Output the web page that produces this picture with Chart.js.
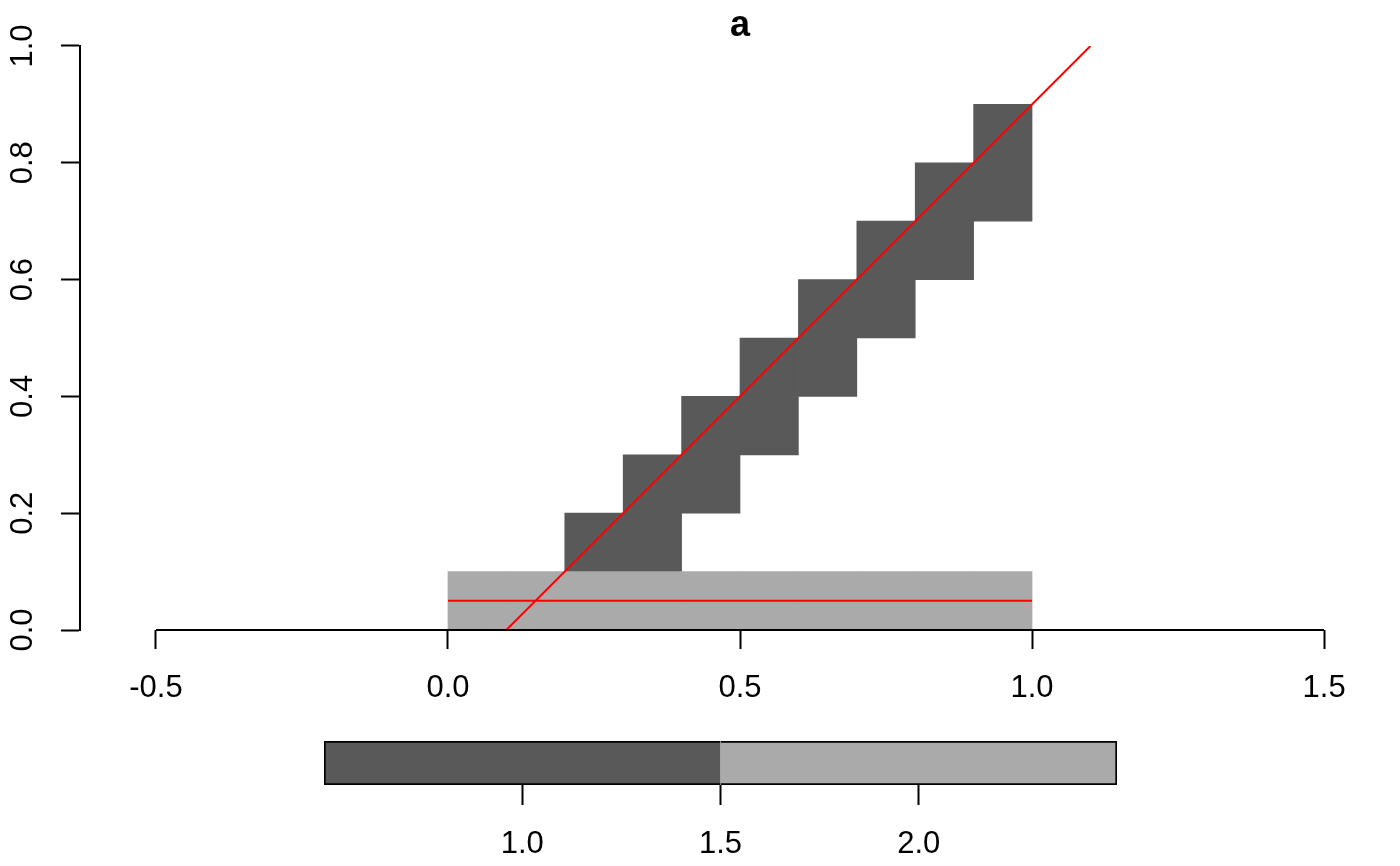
<!DOCTYPE html>
<html>
<head>
<meta charset="utf-8">
<script src="https://cdn.jsdelivr.net/npm/chart.js@4"></script>
<style>
  html, body { margin:0; padding:0; background:#fff; }
  #wrap { position:relative; width:1400px; height:866px; }
  #main { position:absolute; left:0; top:0; }
  #key { position:absolute; left:0; top:720px; }
</style>
</head>
<body>
<div id="wrap">
  <canvas id="main" width="1400" height="720"></canvas>
  <canvas id="key" width="1400" height="146"></canvas>
</div>
<script>
// grid cells (column centres, cell width 0.1)
const lightCols = [0.05, 0.15, 0.25, 0.35, 0.45, 0.55, 0.65, 0.75, 0.85, 0.95];
const lightFrom = [0, 0, 0, 0, 0, 0, 0, 0, 0, 0];
const lightTo   = [0.1, 0.1, 0.1, 0.1, 0.1, 0.1, 0.1, 0.1, 0.1, 0.1];
const darkCols = [0.25, 0.35, 0.45, 0.55, 0.65, 0.75, 0.85, 0.95];
const darkFrom = [0.1, 0.1, 0.2, 0.3, 0.4, 0.5, 0.6, 0.7];
const darkTo   = [0.2, 0.3, 0.4, 0.5, 0.6, 0.7, 0.8, 0.9];

// red lines
const diagX = [0.1, 1.1];
const diagY = [0, 1];
const flatX = [0, 1];
const flatY = [0.05, 0.05];

// axes
const xTicks = [-0.5, 0, 0.5, 1, 1.5];
const yTicks = [0, 0.2, 0.4, 0.6, 0.8, 1];

// colour key
const keyBreaks = [0.5, 1.5, 2.5];
const keyColours = ['#595959', '#AAAAAA'];
const keyTicks = [1, 1.5, 2];

const FONT = '"Liberation Sans", Arial, Helvetica, sans-serif';
const tickFont = { family: FONT, size: 31 };

const pts = (xs, ys) => xs.map((x, i) => ({ x, y: ys[i] }));
const cells = (xs, lo, hi) => xs.map((x, i) => ({ x, y: [lo[i], hi[i]] }));

// R-style x axis line: only between the first and last tick
const xAxisLine = {
  id: 'xAxisLine',
  afterDatasetsDraw(chart) {
    const { ctx, scales: { x, y } } = chart;
    const py = y.getPixelForValue(0);
    ctx.save();
    ctx.strokeStyle = '#000';
    ctx.lineWidth = 2;
    ctx.beginPath();
    ctx.moveTo(x.getPixelForValue(xTicks[0]), py);
    ctx.lineTo(x.getPixelForValue(xTicks[xTicks.length - 1]), py);
    ctx.stroke();
    ctx.restore();
  }
};

new Chart(document.getElementById('main'), {
  type: 'bar',
  data: {
    datasets: [
      { data: cells(lightCols, lightFrom, lightTo), backgroundColor: '#AAAAAA', order: 2 },
      { data: cells(darkCols, darkFrom, darkTo), backgroundColor: '#595959', order: 2 },
      { type: 'line', data: pts(diagX, diagY), borderColor: '#FF0000', borderWidth: 2, pointRadius: 0, order: 1 },
      { type: 'line', data: pts(flatX, flatY), borderColor: '#FF0000', borderWidth: 2, pointRadius: 0, order: 1 }
    ]
  },
  options: {
    responsive: false,
    animation: false,
    datasets: { bar: { grouped: false, barPercentage: 1, categoryPercentage: 1, borderWidth: 0 } },
    layout: { padding: { left: 0, right: 0, top: 0, bottom: 0 } },
    plugins: {
      legend: { display: false },
      tooltip: { enabled: false },
      title: { display: true, text: 'a', color: '#000', fullSize: false,
        font: { family: FONT, size: 36, weight: 'bold', lineHeight: 1.1111 },
        padding: { top: 6, bottom: 0 } }
    },
    scales: {
      x: {
        type: 'linear', min: -0.63, max: 1.63, offset: false,
        afterBuildTicks: s => { s.ticks = xTicks.map(v => ({ value: v })); },
        afterFit: s => { s.height = 90; },
        border: { display: false },
        grid: { offset: false, drawOnChartArea: false, drawTicks: true, tickLength: 19, tickColor: '#000', tickWidth: 2 },
        ticks: { color: '#000', font: tickFont, padding: 21, maxRotation: 0, autoSkip: false,
          callback: v => v.toFixed(1) }
      },
      y: {
        type: 'linear', min: 0, max: 1,
        afterBuildTicks: s => { s.ticks = yTicks.map(v => ({ value: v })); },
        afterFit: s => { s.width = 80; },
        border: { display: true, color: '#000', width: 2 },
        grid: { drawOnChartArea: false, drawTicks: true, tickLength: 19, tickColor: '#000', tickWidth: 2 },
        ticks: { color: '#000', font: tickFont, padding: 16, minRotation: 90, maxRotation: 90,
          crossAlign: 'center', autoSkip: false, callback: v => v.toFixed(1) }
      }
    }
  },
  plugins: [xAxisLine]
});

// colour key below the plot
new Chart(document.getElementById('key'), {
  type: 'bar',
  data: {
    labels: [''],
    datasets: keyColours.map((c, i) => ({
      data: [[keyBreaks[i], keyBreaks[i + 1]]],
      backgroundColor: c,
      borderColor: '#000',
      borderWidth: 2,
      borderSkipped: i === 0 ? 'end' : 'start'
    }))
  },
  options: {
    responsive: false,
    animation: false,
    indexAxis: 'y',
    datasets: { bar: { grouped: false, barPercentage: 1, categoryPercentage: 1 } },
    layout: { padding: { left: 324, right: 283, top: 21, bottom: 0 } },
    plugins: { legend: { display: false }, tooltip: { enabled: false } },
    scales: {
      x: {
        type: 'linear', min: keyBreaks[0], max: keyBreaks[keyBreaks.length - 1],
        afterBuildTicks: s => { s.ticks = keyTicks.map(v => ({ value: v })); },
        afterFit: s => { s.height = 81; },
        border: { display: false },
        grid: { drawOnChartArea: false, drawTicks: true, tickLength: 20, tickColor: '#000', tickWidth: 2 },
        ticks: { color: '#000', font: tickFont, padding: 21, maxRotation: 0, autoSkip: false,
          callback: v => v.toFixed(1) }
      },
      y: { display: false }
    }
  }
});
</script>
</body>
</html>
